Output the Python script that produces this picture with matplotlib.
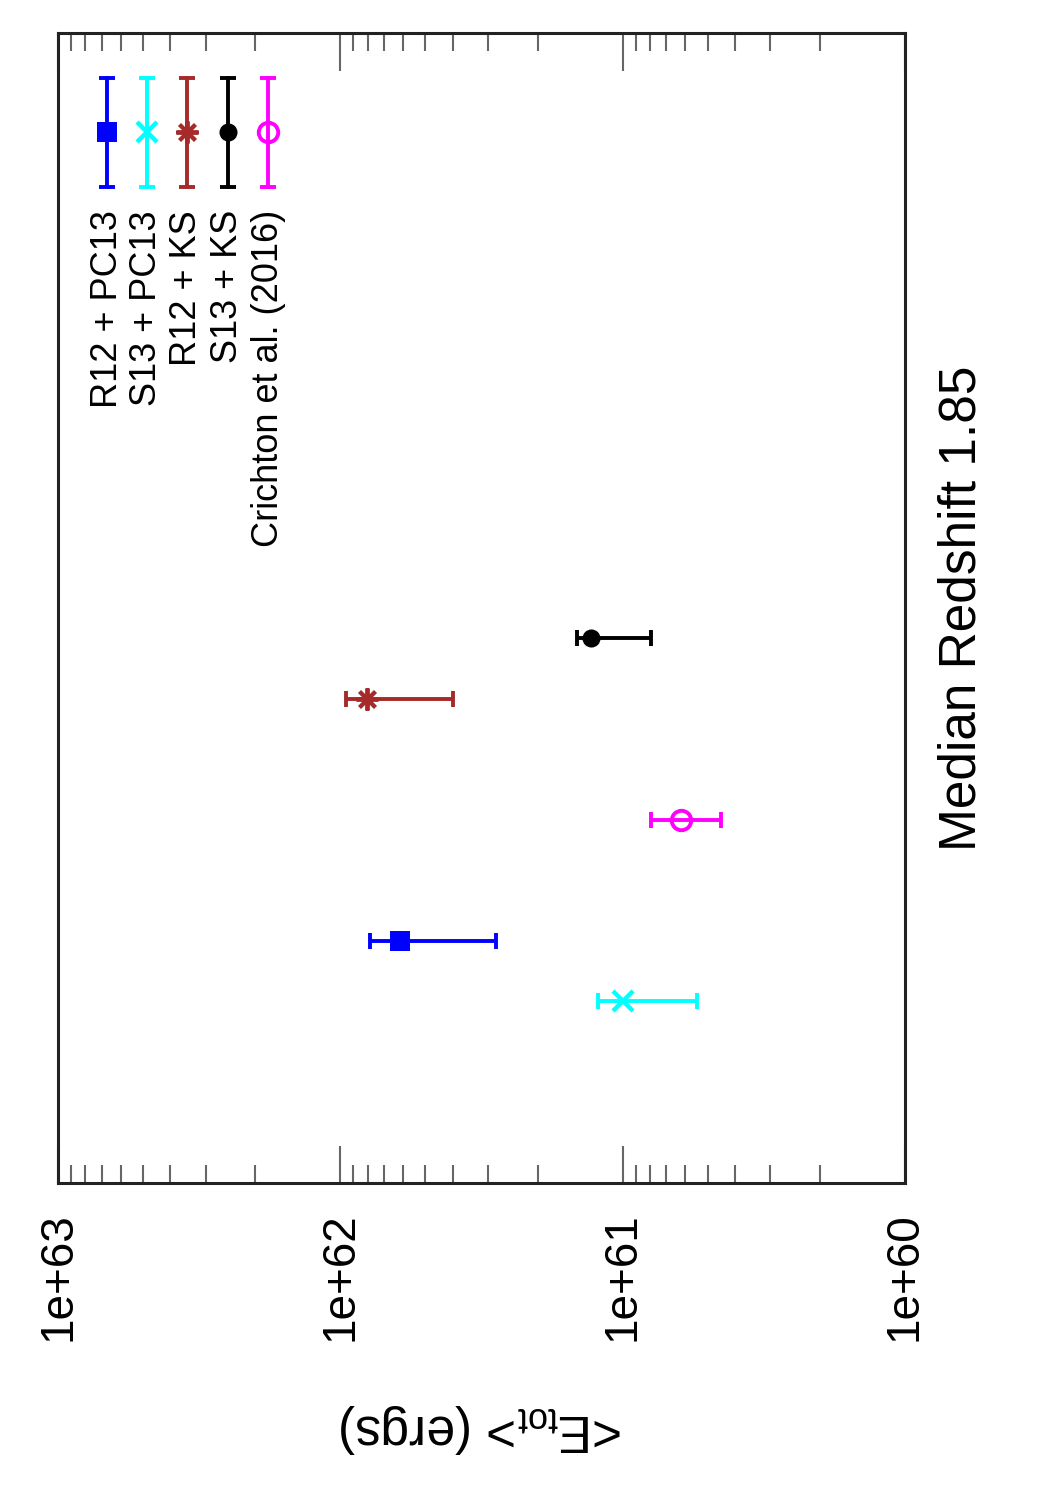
import matplotlib
matplotlib.use('Agg')
import matplotlib.pyplot as plt
from matplotlib.ticker import LogLocator, NullFormatter, FixedLocator, FixedFormatter

plt.rcParams['font.family'] = ['Liberation Sans', 'DejaVu Sans']
plt.rcParams['mathtext.fontset'] = 'custom'
plt.rcParams['mathtext.rm'] = 'Liberation Sans'
plt.rcParams['mathtext.it'] = 'Liberation Sans:italic'

# ---- data ----
labels = ['R12 + PC13', 'S13 + PC13', 'R12 + KS', 'S13 + KS', 'Crichton et al. (2016)']
energy = [6.15e61, 1.0e61, 8.05e61, 1.29e61, 6.2e60]
err_hi = [7.85e61, 1.22e61, 9.55e61, 1.45e61, 7.95e60]
err_lo = [2.8e61, 5.45e60, 4.0e61, 7.95e60, 4.5e60]
positions = [4, 3, 8, 9, 6]
colors = ['#0000ff', '#00ffff', '#a52a2a', '#000000', '#ff00ff']
tick_vals = [1e63, 1e62, 1e61, 1e60]
tick_labels = ['1e+63', '1e+62', '1e+61', '1e+60']

marker_styles = [
    dict(marker='s', ms=14, mew=0),
    dict(marker='x', ms=14, mew=3.2),
    dict(marker=(8, 2, 0), ms=16, mew=2.8),
    dict(marker='o', ms=13, mew=0),
    dict(marker='o', ms=14, mew=2.8, mfc='none'),
]

fig = plt.figure(figsize=(10.5, 15), dpi=100)
ax = fig.add_axes([58/1050, 1-1183/1500, (905-58)/1050, (1183-33)/1500])

for e, hi, lo, p, c, ms in zip(energy, err_hi, err_lo, positions, colors, marker_styles):
    ax.errorbar([e], [p], xerr=[[e - lo], [hi - e]], fmt='none', ecolor=c,
                elinewidth=2.8, capsize=5.5, capthick=2.8)
    ax.plot([e], [p], ls='none', color=c, mec=c, mfc=ms.get('mfc', c),
            **{k: v for k, v in ms.items() if k != 'mfc'})

ax.set_xscale('log')
ax.set_xlim(1e63, 1e60)
ax.set_ylim(0, 19)
ax.set_yticks([])
ax.xaxis.set_major_locator(FixedLocator(tick_vals))
ax.xaxis.set_major_formatter(FixedFormatter(tick_labels))
ax.xaxis.set_minor_locator(LogLocator(base=10, subs=range(2, 10), numticks=50))
ax.xaxis.set_minor_formatter(NullFormatter())
ax.tick_params(axis='x', which='both', direction='in', top=True, bottom=True,
               color='#666666', width=1.5)
ax.tick_params(axis='x', which='major', length=27, labelsize=33, labelrotation=90, pad=21)
ax.tick_params(axis='x', which='minor', length=13)
for s in ax.spines.values():
    s.set_linewidth(2.2)
    s.set_color('#222222')

ax.set_xlabel(r'<E$_{\rm tot}$> (ergs)', fontsize=37, rotation=180, va='center', ha='center')
ax.xaxis.set_label_coords(0.5, (1183-1428)/1150)
ax.yaxis.set_label_position('right')
ax.set_ylabel('Median Redshift 1.85', fontsize=37, rotation=90, va='center', ha='center')
ax.yaxis.set_label_coords((962-58)/847, 0.5)

# ---- legend (rotated, drawn manually) ----
leg_x = [0.058, 0.105, 0.152, 0.2007, 0.248]
y_lo, y_hi, y_c, y_txt = 0.8661, 0.9609, 0.9139, 0.846
for x, lab, c, ms in zip(leg_x, labels, colors, marker_styles):
    ax.plot([x, x], [y_lo, y_hi], color=c, lw=2.8, transform=ax.transAxes, clip_on=False)
    ax.plot([x, x], [y_lo, y_hi], ls='none', marker='_', ms=11, mew=2.8, color=c,
            transform=ax.transAxes, clip_on=False)
    ax.plot([x], [y_c], ls='none', color=c, mec=c, mfc=ms.get('mfc', c),
            transform=ax.transAxes, clip_on=False,
            **{k: v for k, v in ms.items() if k != 'mfc'})
    ax.text(x, y_txt, lab, rotation=90, ha='center', va='top', fontsize=26,
            transform=ax.transAxes)

fig.savefig('out.png', dpi=100)
